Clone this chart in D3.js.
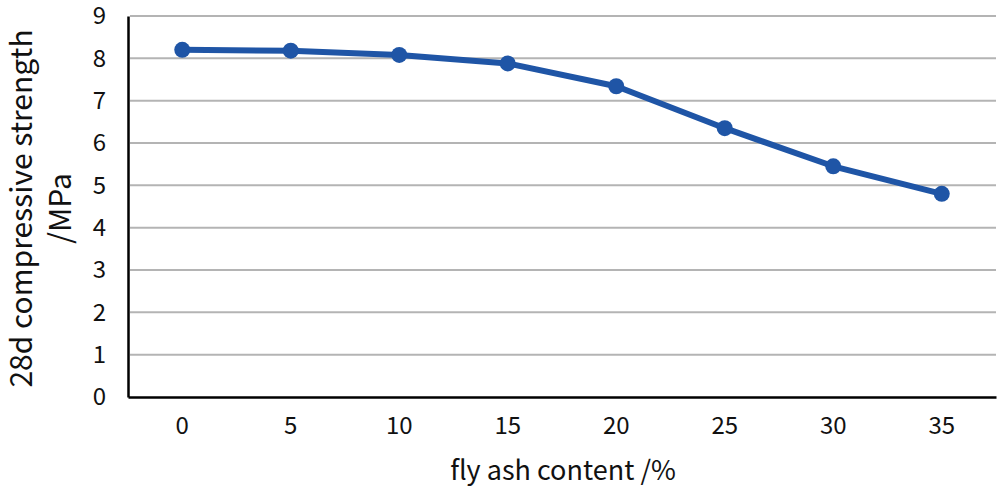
<!DOCTYPE html>
<html>
<head>
<meta charset="utf-8">
<script src="https://cdn.jsdelivr.net/npm/d3@7"></script>
<style>
  body { margin: 0; background: #fff; }
  text { font-family: "Noto Sans CJK SC", "Noto Sans", sans-serif; fill: #111; }
</style>
</head>
<body>
<div id="chart"></div>
<script>
// ---------------- data ----------------
var flyAsh = ["0", "5", "10", "15", "20", "25", "30", "35"];
var strength = [8.2, 8.18, 8.08, 7.88, 7.34, 6.35, 5.45, 4.8];
var yTicks = [0, 1, 2, 3, 4, 5, 6, 7, 8, 9];

var W = 1000, H = 493;
var margin = { top: 16, right: 4, bottom: 96, left: 128 };
var width = W - margin.left - margin.right,
    height = H - margin.top - margin.bottom;

var svg = d3.select("#chart").append("svg")
    .attr("width", W).attr("height", H);
var g = svg.append("g")
    .attr("transform", "translate(" + margin.left + "," + margin.top + ")");

var x = d3.scaleBand().domain(flyAsh).range([0, width]);
var y = d3.scaleLinear().domain([0, 9]).range([height, 0]);

// gridlines
g.selectAll(".grid").data(yTicks.filter(function (d) { return d > 0; }))
  .enter().append("line")
    .attr("x1", 2).attr("x2", width)
    .attr("y1", function (d) { return y(d); })
    .attr("y2", function (d) { return y(d); })
    .attr("stroke", "#b4b4b4").attr("stroke-width", 2);

// y axis
var yAxis = g.append("g").call(d3.axisLeft(y).tickValues(yTicks).tickSize(0).tickPadding(22));
yAxis.select(".domain").attr("stroke", "#000").attr("stroke-width", 2.5);
yAxis.selectAll("text").style("font-size", "24px").attr("fill", "#111")
  .style("font-family", '"Noto Sans CJK SC", sans-serif');

// x axis
var xAxis = g.append("g").attr("transform", "translate(0," + height + ")")
  .call(d3.axisBottom(x).tickSize(0).tickPadding(20));
xAxis.select(".domain").attr("stroke", "#000").attr("stroke-width", 2.5);
xAxis.selectAll("text").style("font-size", "24px").attr("fill", "#111")
  .style("font-family", '"Noto Sans CJK SC", sans-serif');

// line
var line = d3.line()
    .x(function (d, i) { return x(flyAsh[i]) + x.bandwidth() / 2; })
    .y(function (d) { return y(d); });

g.append("path").datum(strength)
  .attr("d", line)
  .attr("fill", "none")
  .attr("stroke", "#1f55a6")
  .attr("stroke-width", 6)
  .attr("stroke-linejoin", "round");

g.selectAll(".pt").data(strength).enter().append("circle")
  .attr("cx", function (d, i) { return x(flyAsh[i]) + x.bandwidth() / 2; })
  .attr("cy", function (d) { return y(d); })
  .attr("r", 8)
  .attr("fill", "#1f55a6");

// axis titles
svg.append("text")
  .attr("x", margin.left + width / 2 + 1).attr("y", 480)
  .attr("text-anchor", "middle")
  .style("font-size", "27px")
  .text("fly ash content /%");

var yt = svg.append("text")
  .attr("transform", "translate(0," + (margin.top + height / 2 + 2) + ") rotate(-90)")
  .attr("text-anchor", "middle")
  .style("font-size", "30px");
yt.append("tspan").attr("x", 0).attr("y", 32).text("28d compressive strength");
yt.append("tspan").attr("x", 0).attr("y", 71).text("/MPa");
</script>
</body>
</html>
